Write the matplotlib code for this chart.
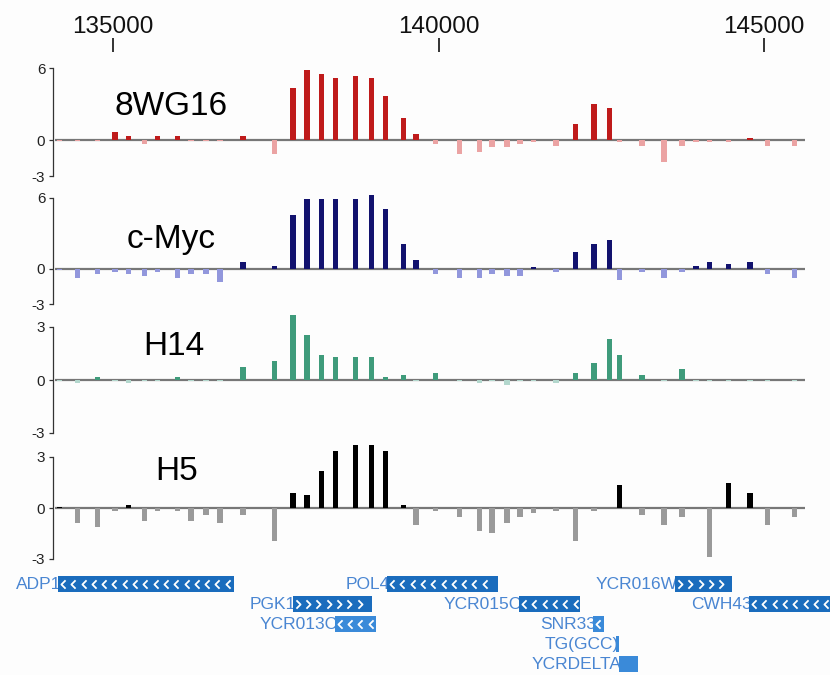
import numpy as np
import matplotlib
matplotlib.use('Agg')
import matplotlib.pyplot as plt
from matplotlib.patches import Rectangle

plt.rcParams['font.family'] = ['Liberation Sans', 'DejaVu Sans']

# ---------------- data ----------------
probe_pos = [134180, 134452, 134762, 135029, 135241, 135485, 135680, 135989,
             136201, 136429, 136641, 136998, 137479, 137763, 137983, 138203,
             138415, 138724, 138968, 139187, 139464, 139651, 139952, 140326,
             140627, 140823, 141051, 141253, 141458, 141806, 142108, 142385,
             142628, 142783, 143126, 143467, 143743, 143955, 144166, 144452,
             144785, 145054, 145468]

vals_8wg16 = [-0.05, -0.1, -0.1, 0.67, 0.34, -0.31, 0.34, 0.34, -0.1, -0.1, -0.1,
              0.34, -1.15, 4.36, 5.87, 5.53, 5.2, 5.36, 5.2, 3.69, 1.84, 0.5,
              -0.31, -1.15, -0.98, -0.61, -0.61, -0.31, -0.14, -0.47, 1.34, 3.02,
              2.68, -0.14, -0.47, -1.82, -0.47, -0.14, -0.14, -0.14, 0.17, -0.47, -0.47]

vals_cmyc = [-0.1, -0.74, -0.4, -0.23, -0.4, -0.57, -0.23, -0.74, -0.4, -0.4, -1.08,
             0.62, 0.28, 4.53, 5.89, 5.89, 5.89, 5.89, 6.23, 5.04, 2.15, 0.79,
             -0.4, -0.74, -0.74, -0.4, -0.57, -0.57, 0.14, -0.23, 1.47, 2.15,
             2.49, -0.93, -0.23, -0.74, -0.23, 0.28, 0.62, 0.45, 0.62, -0.4, -0.74]

vals_h14 = [-0.03, -0.19, 0.15, -0.08, -0.19, -0.08, -0.08, 0.15, -0.08, -0.08, -0.08,
            0.72, 1.06, 3.68, 2.54, 1.40, 1.29, 1.29, 1.29, 0.15, 0.27, -0.08,
            0.38, -0.08, -0.19, -0.08, -0.3, -0.08, -0.08, -0.19, 0.38, 0.95,
            2.32, 1.40, 0.27, -0.08, 0.61, -0.08, -0.08, -0.08, -0.08, -0.08, -0.08]

vals_h5 = [0.05, -0.88, -1.12, -0.16, 0.18, -0.75, -0.16, -0.16, -0.75, -0.39, -0.88,
           -0.39, -1.92, 0.88, 0.77, 2.19, 3.38, 3.71, 3.71, 3.38, 0.18, -0.98,
           -0.16, -0.51, -1.33, -1.48, -0.88, -0.51, -0.31, -0.16, -1.92, -0.16,
           0.0, 1.37, -0.39, -0.98, -0.51, 0.0, -2.86, 1.48, 0.88, -0.98, -0.51]

track_names = ['8WG16', 'c-Myc', 'H14', 'H5']
track_values = [vals_8wg16, vals_cmyc, vals_h14, vals_h5]
track_top = [6, 6, 3, 3]
track_ticks = [[-3, 0, 6], [-3, 0, 6], [-3, 0, 3], [-3, 0, 3]]
track_ticklabels = [['-3', '0', '6'], ['-3', '0', '6'], ['-3', '0', '3'], ['-3', '0', '3']]

top_ticks = [135000, 140000, 145000]
top_ticklabels = ['135000', '140000', '145000']

gene_names = ['ADP1', 'POL4', 'YCR016W', 'PGK1', 'YCR015C', 'CWH43',
              'YCR013C', 'SNR33', 'TG(GCC)', 'YCRDELTA']
gene_start = [134155, 139209, 143633, 137763, 141237, 144770,
              138406, 142373, 142726, 142773]
gene_end = [136859, 140914, 144508, 138985, 142174, 146300,
            139041, 142542, 142773, 143065]
gene_strand = ['-', '-', '+', '+', '-', '-', '-', '-', '', '']
gene_row = [0, 0, 0, 1, 1, 1, 2, 2, 3, 4]
gene_light = [False, False, False, False, False, False, True, True, True, True]

# ---------------- styling / layout ----------------
W, H = 830, 675
PX_PER_BP = 325.5 / 5000.0
REF_PX, REF_BP = 113.0, 135000.0


def px2bp(px):
    return REF_BP + (px - REF_PX) / PX_PER_BP


def rect(x0, y0, x1, y1):
    return [x0 / W, 1 - y1 / H, (x1 - x0) / W, (y1 - y0) / H]


pos_colors = ['#bf1b1b', '#12126e', '#3f9b7b', '#000000']
neg_colors = ['#eba3a3', '#9297dc', '#b3d7cd', '#9a9a9a']
zero_px = [140, 269, 380, 508]
top_px = [68, 198, 327, 457]
label_x = [114, 127, 143, 155]
label_base = [115, 248, 355, 480]

AX_L, AX_R = 53, 805
BAR_W = 85

fig = plt.figure(figsize=(W / 100, H / 100), dpi=100)
fig.patch.set_facecolor('#fdfdfd')

# top coordinate ruler
axt = fig.add_axes(rect(AX_L, 52, AX_R, 53))
axt.set_xlim(px2bp(AX_L), px2bp(AX_R))
axt.set_ylim(0, 1)
for s in axt.spines.values():
    s.set_visible(False)
axt.set_yticks([])
axt.xaxis.tick_top()
axt.set_xticks(top_ticks)
axt.set_xticklabels(top_ticklabels)
axt.tick_params(axis='x', direction='out', length=10, width=1.2, color='#111',
                labelsize=17.5, labelcolor='#111', pad=0.3)
axt.patch.set_alpha(0)

# data tracks
for i in range(4):
    k = (zero_px[i] - top_px[i]) / track_top[i]
    y_top = top_px[i] - 10
    y_bot = zero_px[i] + 3 * k + 10
    ax = fig.add_axes(rect(AX_L, y_top, AX_R, y_bot))
    ax.patch.set_alpha(0)
    ax.set_xlim(px2bp(AX_L), px2bp(AX_R))
    ax.set_ylim((zero_px[i] - y_bot) / k, (zero_px[i] - y_top) / k)
    vals = np.array(track_values[i])
    cols = [pos_colors[i] if v > 0 else neg_colors[i] for v in vals]
    ax.bar(probe_pos, vals, width=BAR_W, color=cols, linewidth=0, zorder=3,
           clip_on=False)
    ax.plot([px2bp(55), px2bp(805)], [0, 0], color='#777777', lw=1.6, zorder=2,
            solid_capstyle='butt')
    for side in ['top', 'right', 'bottom']:
        ax.spines[side].set_visible(False)
    ax.spines['left'].set_bounds(-3, track_top[i])
    ax.spines['left'].set_color('#333333')
    ax.spines['left'].set_linewidth(0.9)
    ax.set_xticks([])
    ax.set_yticks(track_ticks[i])
    ax.set_yticklabels(track_ticklabels[i])
    ax.tick_params(axis='y', direction='out', length=3, width=0.9, color='#333333',
                   labelsize=11, labelcolor='#222222', pad=2.5)
    fig.text(label_x[i] / W, 1 - label_base[i] / H, track_names[i],
             fontsize=24, color='#000000', ha='left', va='baseline')

# gene annotation track
axg = fig.add_axes(rect(0, 570, W, H))
axg.set_xlim(px2bp(0), px2bp(W))
axg.set_ylim(H, 570)
axg.axis('off')
ROW0, ROW_STEP, BOX_H = 584, 19.9, 16
dark_blue, light_blue, text_blue = '#1a6cbd', '#3a8ad9', '#4a86d2'
left_chev = [(0.5, 1), (-0.5, 0), (0.5, -1)]
right_chev = [(-0.5, 1), (0.5, 0), (-0.5, -1)]
for name, s, e, strand, row, light in zip(gene_names, gene_start, gene_end,
                                          gene_strand, gene_row, gene_light):
    yc = ROW0 + ROW_STEP * row
    col = light_blue if light else dark_blue
    axg.add_patch(Rectangle((s, yc - BOX_H / 2), e - s, BOX_H, facecolor=col,
                            edgecolor='none', zorder=3))
    axg.text(s + 3 / PX_PER_BP, yc + 0.5, name, ha='right', va='center',
             fontsize=12.5, color=text_blue, zorder=2)
    if strand:
        xs = np.arange(s + 5 / PX_PER_BP, e - 3 / PX_PER_BP, 10.3 / PX_PER_BP)
        mk = left_chev if strand == '-' else right_chev
        axg.plot(xs, np.full(len(xs), yc), linestyle='none', marker=mk,
                 markersize=6, markerfacecolor='none', markeredgecolor='white',
                 markeredgewidth=1.3, zorder=4)

fig.savefig('out.png', dpi=100, facecolor=fig.get_facecolor())
